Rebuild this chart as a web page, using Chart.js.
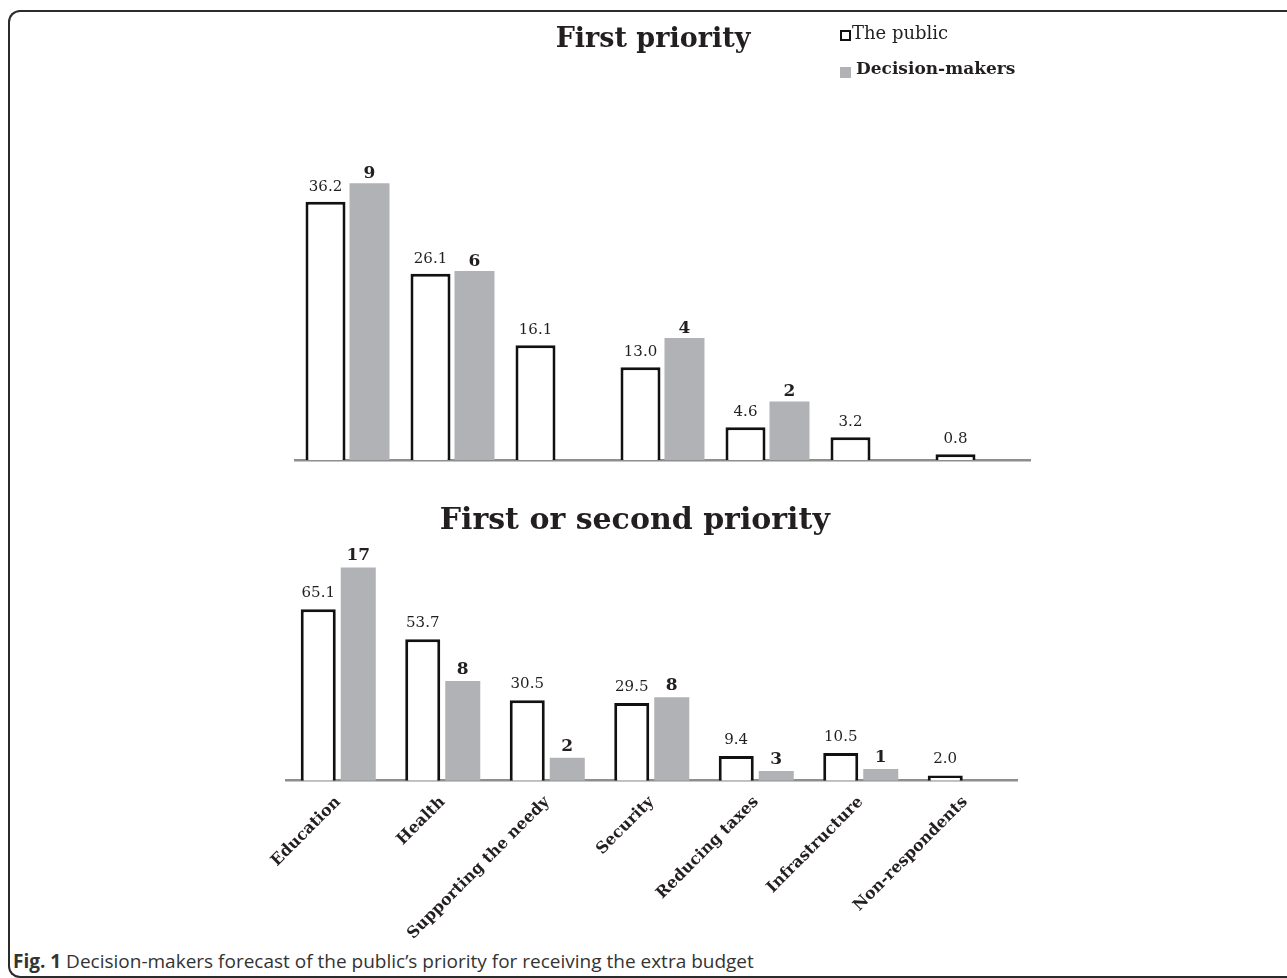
<!DOCTYPE html>
<html>
<head>
<meta charset="utf-8">
<script src="https://cdn.jsdelivr.net/npm/chart.js@4.4.1/dist/chart.umd.min.js"></script>
<style>
  html, body { margin: 0; padding: 0; background: #fff; overflow: hidden; }
  body { width: 1287px; height: 978px; position: relative; }
  .frame {
    position: absolute; left: 8px; top: 10px; width: 1400px; height: 968px;
    border: 2px solid #2b2b2b; border-right: none; box-sizing: border-box;
    border-top-left-radius: 12px; border-bottom-left-radius: 12px;
  }
  canvas { position: absolute; }
  #top-chart { left: 250px; top: 0; }
  #bottom-chart { left: 230px; top: 480px; }
  .legend { position: absolute; left: 840px; top: 24px; font-family: "DejaVu Serif", serif; color: #231f20; }
  .legend div { position: relative; height: 34px; }
  .legend .box { position: absolute; left: 0; width: 11px; height: 11px; box-sizing: border-box; }
  .legend .txt { position: absolute; white-space: nowrap; }
  .caption {
    position: absolute; left: 13px; top: 948px; font-family: "Open Sans", sans-serif;
    font-size: 19px; color: #333; white-space: nowrap;
  }
</style>
</head>
<body>
<div class="frame"></div>
<canvas id="top-chart" width="800" height="470"></canvas>
<canvas id="bottom-chart" width="810" height="460"></canvas>
<div class="legend">
  <div>
    <span class="box" style="top:6px;border:2px solid #111;background:#fff"></span>
    <span class="txt" style="left:12px;top:-2px;font-size:18px">The public</span>
  </div>
  <div>
    <span class="box" style="top:9px;background:#b1b2b5"></span>
    <span class="txt" style="left:16px;top:0px;font-size:17px;font-weight:bold">Decision-makers</span>
  </div>
</div>
<div class="caption"><b>Fig. 1</b> Decision-makers forecast of the public’s priority for receiving the extra budget</div>

<script>
const categories = ['Education', 'Health', 'Supporting the needy', 'Security', 'Reducing taxes', 'Infrastructure', 'Non-respondents'];

const firstPublic = [36.2, 26.1, 16.1, 13.0, 4.6, 3.2, 0.8];
const firstMakers = [38.8, 26.5, null, 17.1, 8.2, null, null];
const firstMakerCounts = ['9', '6', null, '4', '2', null, null];

// First or second priority
const bothPublic = [65.1, 53.7, 30.5, 29.5, 9.4, 10.5, 2.0];
const bothMakers = [80.9, 37.8, 8.7, 31.7, 3.7, 4.4, null];
const bothMakerCounts = ['17', '8', '2', '8', '3', '1', null];

const SERIF = '"DejaVu Serif", serif';
const INK = '#231f20';
const GREY = '#b1b2b5';

// draws the number above each bar
const valueLabels = {
  id: 'valueLabels',
  afterDatasetsDraw(chart) {
    const ctx = chart.ctx;
    ctx.save();
    ctx.textAlign = 'center';
    ctx.textBaseline = 'alphabetic';
    ctx.fillStyle = INK;
    chart.data.datasets.forEach((ds, i) => {
      const meta = chart.getDatasetMeta(i);
      meta.data.forEach((bar, j) => {
        const txt = ds.valueText[j];
        if (txt == null) return;
        ctx.font = ds.labelFont;
        ctx.fillText(txt, bar.x, bar.y - ds.labelGap);
      });
    });
    ctx.restore();
  }
};

function makeChart(id, cfg) {
  return new Chart(document.getElementById(id), {
    type: 'bar',
    data: {
      labels: categories,
      datasets: [
        {
          label: 'The public',
          data: cfg.pub,
          valueText: cfg.pub.map(v => v.toFixed(1)),
          labelFont: '15px ' + SERIF,
          labelGap: cfg.pubGap,
          backgroundColor: '#fff',
          borderColor: '#111',
          borderWidth: 3,
          categoryPercentage: cfg.catPct,
          barPercentage: cfg.barPct,
        },
        {
          label: 'Decision-makers',
          data: cfg.dm,
          valueText: cfg.dmText,
          labelFont: 'bold 17px ' + SERIF,
          labelGap: cfg.dmGap,
          backgroundColor: GREY,
          borderWidth: 0,
          categoryPercentage: cfg.catPct,
          barPercentage: cfg.barPct,
        },
      ],
    },
    options: {
      responsive: false,
      animation: false,
      layout: { padding: cfg.padding },
      plugins: {
        legend: { display: false },
        tooltip: { enabled: false },
        title: {
          display: true,
          text: cfg.title,
          color: INK,
          font: { family: SERIF, size: cfg.titleSize, weight: 'bold', lineHeight: 1.2 },
          padding: cfg.titlePad,
        },
      },
      scales: {
        x: {
          grid: { display: false, drawTicks: false },
          border: { display: true, color: '#8e8e8e', width: 2.5 },
          ticks: cfg.ticks,
          afterFit: s => { s.height = cfg.xHeight; },
        },
        y: {
          min: 0,
          max: cfg.yMax,
          grid: { display: false },
          border: { display: false },
          ticks: { display: false },
          afterFit: s => { s.width = cfg.yWidth; },
        },
      },
    },
    plugins: [valueLabels],
  });
}

makeChart('top-chart', {
  title: 'First priority',
  titleSize: 27,
  titlePad: { top: 24, bottom: 11.2 },
  pub: firstPublic,
  dm: firstMakers,
  dmText: firstMakerCounts,
  pubGap: 11,
  dmGap: 5,
  catPct: 0.838,
  barPct: 0.909,
  padding: { left: 26, right: 20, top: 0, bottom: 10 },
  yWidth: 19,
  xHeight: 0,
  yMax: 55,
  ticks: { display: false },
});

makeChart('bottom-chart', {
  title: 'First or second priority',
  titleSize: 30,
  titlePad: { top: 23, bottom: 4.5 },
  pub: bothPublic,
  dm: bothMakers,
  dmText: bothMakerCounts,
  pubGap: 12,
  dmGap: 7,
  catPct: 0.766,
  barPct: 0.875,
  padding: { left: 22, right: 22.5, top: 0, bottom: 0 },
  yWidth: 34,
  xHeight: 159.3,
  yMax: 90,
  ticks: {
    display: true,
    color: INK,
    minRotation: 45,
    maxRotation: 45,
    padding: 12,
    font: { family: SERIF, size: 16, weight: 'bold' },
  },
});
</script>
</body>
</html>
